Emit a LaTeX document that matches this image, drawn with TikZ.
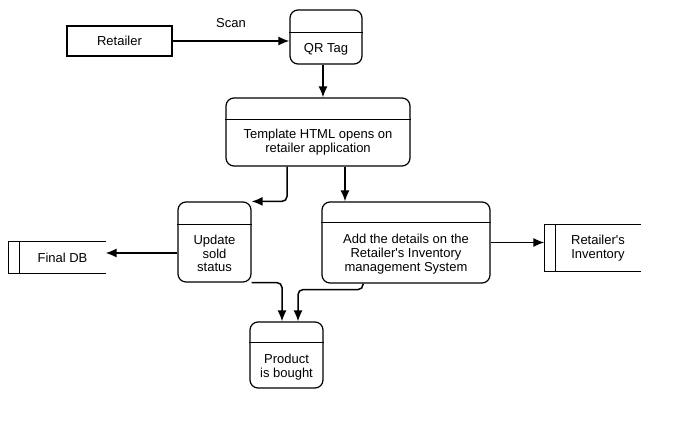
\documentclass[tikz,border=0pt]{standalone}
\usepackage{fontspec}
\setmainfont{Liberation Sans}
\usetikzlibrary{arrows.meta}
\begin{document}
\begin{tikzpicture}[x=1pt, y=-1pt, line width=1.2pt,
  procbox/.style={draw, rounded corners=8pt, inner sep=0pt},
  txt/.style={font=\fontsize{13}{13.8}\selectfont, align=center, inner sep=0pt},
  store/.style={txt, minimum height=#1},
  flow/.style={-{Latex[length=11pt,width=9pt]}, line width=1.5pt}]
\useasboundingbox (0,0) rectangle (680,430);
\node[draw, txt, minimum width=105pt, minimum height=30pt] (retailer) at (119.5,41) {Retailer};
\node[procbox, minimum width=72pt, minimum height=54pt] (qrtag) at (326,37) {};
\draw ([yshift=-23pt]qrtag.north west) -- ([yshift=-23pt]qrtag.north east);
\node[txt] (qrtagtxt) at (326,49) {QR Tag};
\node[procbox, minimum width=184pt, minimum height=68pt] (tmpl) at (318,132) {};
\draw ([yshift=-22pt]tmpl.north west) -- ([yshift=-22pt]tmpl.north east);
\node[txt] (tmpltxt) at (318,142.5) {Template HTML opens on\\retailer application};
\node[procbox, minimum width=73pt, minimum height=80pt] (update) at (214.5,242) {};
\draw ([yshift=-23pt]update.north west) -- ([yshift=-23pt]update.north east);
\node[txt] (updatetxt) at (214.5,253.5) {Update\\sold\\status};
\node[procbox, minimum width=168pt, minimum height=81pt] (add) at (406,242.5) {};
\draw ([yshift=-21pt]add.north west) -- ([yshift=-21pt]add.north east);
\node[txt] (addtxt) at (406,254) {Add the details on the\\Retailer\textquotesingle s Inventory\\management System};
\node[procbox, minimum width=73pt, minimum height=66pt] (product) at (286.5,355) {};
\draw ([yshift=-21pt]product.north west) -- ([yshift=-21pt]product.north east);
\node[txt] (producttxt) at (286.5,367) {Product\\is bought};
\node[store=31pt, minimum width=85pt] (finaldb) at (62.5,257.5) {Final DB};
\draw (finaldb.north east) -- ([xshift=-11pt]finaldb.north west) -- ([xshift=-11pt]finaldb.south west) -- (finaldb.south east);
\draw (finaldb.north west) -- (finaldb.south west);
\node[store=46pt, minimum width=84pt] (inv) at (598,248) {Retailer\textquotesingle s\\Inventory};
\draw (inv.north east) -- ([xshift=-11pt]inv.north west) -- ([xshift=-11pt]inv.south west) -- (inv.south east);
\draw (inv.north west) -- (inv.south west);
\draw[flow] (retailer.east) -- (retailer.east -| qrtag.west) node[txt, midway, above=13pt] (scanlbl) {Scan};
\draw[flow] ([xshift=-3pt]qrtag.south) -- ([xshift=-3pt]qrtag.south |- tmpl.north);
\draw[flow, rounded corners=5pt] ([xshift=-31pt]tmpl.south) |- (update.north east);
\draw[flow] ([xshift=27pt]tmpl.south) -- ([xshift=27pt]tmpl.south |- add.north);
\draw[flow] ([yshift=-11pt]update.west) -- ([yshift=-11pt]update.west -| finaldb.east);
\draw[flow] (add.east) -- ([xshift=-11pt]add.east -| inv.west);
\draw[flow, rounded corners=5pt] (update.south east) -| ([xshift=-4.5pt]product.north);
\draw[flow, rounded corners=5pt] ([xshift=-43pt]add.south) -- ++(0,6) -| ([xshift=11.5pt]product.north);
\end{tikzpicture}
\end{document}
